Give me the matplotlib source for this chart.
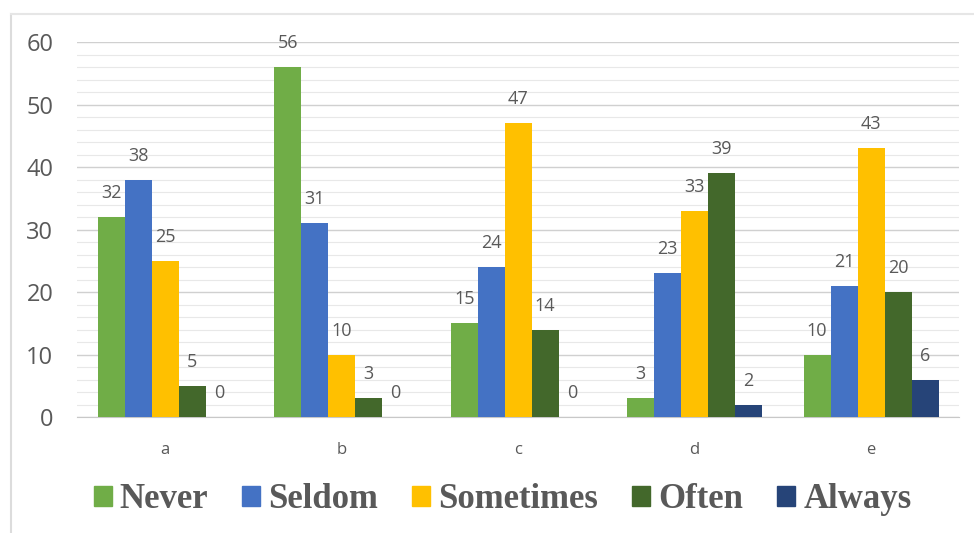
import matplotlib
matplotlib.use("Agg")
import matplotlib.pyplot as plt
import numpy as np
from matplotlib.patches import Rectangle
from matplotlib.lines import Line2D

categories = ["a", "b", "c", "d", "e"]
series_names = ["Never", "Seldom", "Sometimes", "Often", "Always"]
never = [32, 56, 15, 3, 10]
seldom = [38, 31, 24, 23, 21]
sometimes = [25, 10, 47, 33, 43]
often = [5, 3, 14, 39, 20]
always = [0, 0, 0, 2, 6]
colors = ["#70AD47", "#4472C4", "#FFC000", "#43682B", "#264478"]

series = [never, seldom, sometimes, often, always]

fig = plt.figure(figsize=(9.74, 5.33), dpi=100)
ax = fig.add_axes([0.079, 0.2176, 0.906, 0.7036])

x = np.arange(len(categories))
width = 0.153
label_color = "#595959"
for i, (vals, col) in enumerate(zip(series, colors)):
    pos = x + (i - 2) * width
    ax.bar(pos, vals, width=width, color=col, zorder=3)
    for px, v in zip(pos, vals):
        ax.text(px, v + 2.4, str(v), ha="center", va="bottom",
                fontsize=13, color=label_color, family="Open Sans", zorder=4)

ax.set_xlim(-0.5, 4.5)
ax.set_ylim(0, 60)
ax.set_yticks(np.arange(0, 61, 10))
ax.set_yticks(np.arange(0, 61, 2), minor=True)
ax.grid(axis="y", which="major", color="#D0D0D0", linewidth=1.0, zorder=0)
ax.grid(axis="y", which="minor", color="#E8E8E8", linewidth=0.8, zorder=0)
ax.set_xticks(x)
ax.set_xticklabels(categories)
for s in ["top", "right", "left"]:
    ax.spines[s].set_visible(False)
ax.spines["bottom"].set_color("#C8C8C8")
ax.tick_params(axis="both", which="both", length=0)
ax.tick_params(axis="y", labelsize=17, labelcolor=label_color, pad=17)
ax.tick_params(axis="x", labelsize=12, labelcolor=label_color, pad=18)
for t in ax.get_yticklabels() + ax.get_xticklabels():
    t.set_family("Open Sans")

handles = [Rectangle((0, 0), 1, 1, color=c) for c in colors]
leg = fig.legend(handles, series_names, loc="center", bbox_to_anchor=(0.516, 0.062),
                 ncol=5, frameon=False, handlelength=0.52, handleheight=0.52,
                 handletextpad=0.23, columnspacing=0.98,
                 prop={"family": "Liberation Serif", "weight": "bold", "size": 25})
for t in leg.get_texts():
    t.set_color(label_color)

# chart frame: left and top edges
fig.add_artist(Line2D([0.011, 0.011], [0.0, 0.974], transform=fig.transFigure,
                      color="#DCDCDC", linewidth=1.5))
fig.add_artist(Line2D([0.011, 1.0], [0.974, 0.974], transform=fig.transFigure,
                      color="#E6E6E6", linewidth=1.5))

fig.savefig("out.png", dpi=100)
